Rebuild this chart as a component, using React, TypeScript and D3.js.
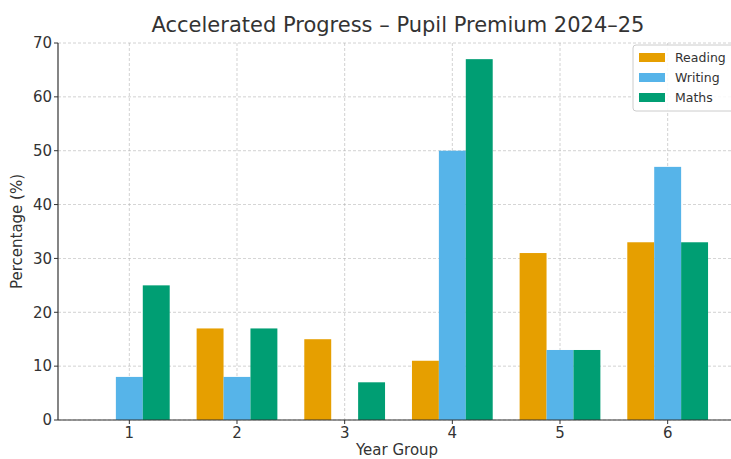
import React from "react";
import * as d3 from "d3";

const years = ["1", "2", "3", "4", "5", "6"];
const reading = [0, 17, 15, 11, 31, 33];
const writing = [8, 8, 0, 50, 13, 47];
const maths = [25, 17, 7, 67, 13, 33];
const seriesNames = ["Reading", "Writing", "Maths"];
const seriesColors = ["#E69F00", "#56B4E9", "#009E73"];
const yTicks = [0, 10, 20, 30, 40, 50, 60, 70];

export default function App() {
  const W = 731, H = 459;
  const left = 58, top = 43, bottom = 420, right = 739;
  const x = d3.scaleLinear().domain([0.3375, 6.6625]).range([left, right]);
  const y = d3.scaleLinear().domain([0, 70]).range([bottom, top]);
  const series = [reading, writing, maths];
  const bw = 0.25;
  const font = "DejaVu Sans, sans-serif";
  return (
    <svg width={W} height={H} style={{ position: "absolute", left: 0, top: 0 }} fontFamily={font}>
      <rect width={W} height={H} fill="#fff" />
      {/* grid */}
      {yTicks.map((t) => (
        <line key={"gy" + t} x1={left} x2={W} y1={y(t)} y2={y(t)} stroke="#b0b0b0" strokeWidth={0.8} strokeDasharray="3,2" opacity={0.7} />
      ))}
      {years.map((yr, i) => (
        <line key={"gx" + yr} x1={x(i + 1)} x2={x(i + 1)} y1={top} y2={bottom} stroke="#b0b0b0" strokeWidth={0.8} strokeDasharray="3,2" opacity={0.7} />
      ))}
      {/* bars */}
      {series.map((vals, s) =>
        vals.map((v, i) => {
          const cx = i + 1 + (s - 1) * bw;
          return (
            <rect key={s + "-" + i} x={x(cx - bw / 2)} y={y(v)} width={x(cx + bw / 2) - x(cx - bw / 2)} height={bottom - y(v)} fill={seriesColors[s]} />
          );
        })
      )}
      {/* axes */}
      <line x1={left} x2={left} y1={top} y2={bottom} stroke="#333" strokeWidth={1.2} />
      <line x1={left} x2={W} y1={bottom} y2={bottom} stroke="#333" strokeWidth={1.2} />
      {yTicks.map((t) => (
        <g key={"ty" + t}>
          <line x1={left - 4} x2={left} y1={y(t)} y2={y(t)} stroke="#333" strokeWidth={1} />
          <text x={left - 6} y={y(t)} dy="0.35em" textAnchor="end" fontSize={15} fill="#333">{t}</text>
        </g>
      ))}
      {years.map((yr, i) => (
        <g key={"tx" + yr}>
          <line x1={x(i + 1)} x2={x(i + 1)} y1={bottom} y2={bottom + 4} stroke="#333" strokeWidth={1} />
          <text x={x(i + 1)} y={bottom + 18} textAnchor="middle" fontSize={15} fill="#333">{yr}</text>
        </g>
      ))}
      <text x={397} y={455} textAnchor="middle" fontSize={15} fill="#333">Year Group</text>
      <text transform={`translate(22, ${(top + bottom) / 2}) rotate(-90)`} textAnchor="middle" fontSize={15} fill="#333">Percentage (%)</text>
      <text x={398} y={32} textAnchor="middle" fontSize={21} fill="#333">Accelerated Progress – Pupil Premium 2024–25</text>
      {/* legend */}
      <rect x={633} y={45} width={104} height={66} rx={3} fill="#fff" fillOpacity={0.85} stroke="#ccc" />
      {seriesNames.map((n, s) => (
        <g key={n}>
          <rect x={639} y={53 + s * 20} width={26} height={9} fill={seriesColors[s]} />
          <text x={675} y={58 + s * 20} dy="0.35em" fontSize={12.5} fill="#333">{n}</text>
        </g>
      ))}
    </svg>
  );
}
